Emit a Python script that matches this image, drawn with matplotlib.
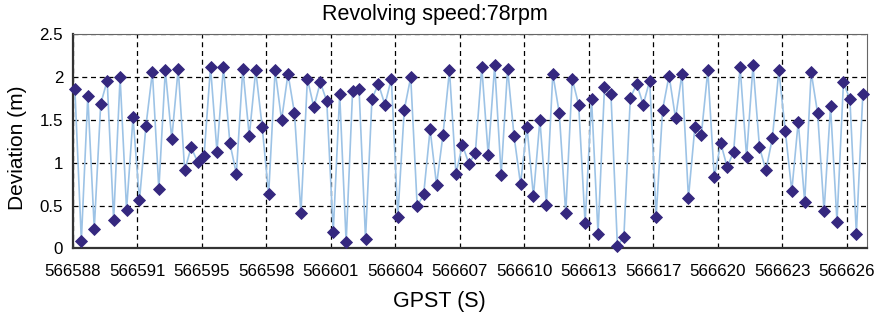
import numpy as np
import matplotlib
matplotlib.use("Agg")
import matplotlib.pyplot as plt

plt.rcParams['font.family'] = ['Liberation Sans', 'DejaVu Sans']

# deviation per sample (m)
deviation = [
    1.86, 0.09, 1.78, 0.23, 1.69, 1.96, 0.33, 2.00, 0.45, 1.53,
    0.56, 1.43, 2.06, 0.69, 2.08, 1.28, 2.10, 0.91, 1.18, 1.01,
    1.08, 2.12, 1.13, 2.12, 1.23, 0.87, 2.10, 1.31, 2.08, 1.42,
    0.63, 2.08, 1.50, 2.04, 1.58, 0.41, 1.98, 1.65, 1.94, 1.72,
    0.19, 1.80, 0.07, 1.84, 1.86, 0.11, 1.75, 1.92, 1.68, 1.98,
    0.37, 1.62, 2.00, 0.49, 0.63, 1.39, 0.74, 1.33, 2.08, 0.87,
    1.21, 0.99, 1.11, 2.12, 1.09, 2.14, 0.86, 2.10, 1.31, 0.75,
    1.42, 0.61, 1.50, 0.51, 2.04, 1.58, 0.41, 1.98, 1.68, 0.29,
    1.74, 0.17, 1.88, 1.80, 0.03, 0.13, 1.76, 1.92, 1.68, 1.96,
    0.37, 1.62, 2.02, 1.52, 2.04, 0.59, 1.42, 1.33, 2.08, 0.83,
    1.23, 0.95, 1.13, 2.12, 1.07, 2.14, 1.18, 0.91, 1.29, 2.08,
    1.37, 0.67, 1.48, 0.54, 2.06, 1.58, 0.43, 1.66, 0.31, 1.94,
    1.74, 0.17, 1.80,
]
sample = np.arange(len(deviation))

xtick_labels = ['566588', '566591', '566595', '566598', '566601', '566604',
                '566607', '566610', '566613', '566617', '566620', '566623',
                '566626']
ytick_values = [0, 0.5, 1, 1.5, 2, 2.5]
ytick_labels = ['0', '0.5', '1', '1.5', '2', '2.5']

fig = plt.figure(figsize=(8.79, 3.22), dpi=100)
ax = fig.add_axes([0.083, 0.229, 0.903, 0.664])

ax.plot(sample, deviation, color='#9DC3E6', lw=1.2, zorder=2)
ax.plot(sample, deviation, ls='none', marker='D', ms=5.8,
        mfc='#35287F', mec='#35287F', mew=0.6, zorder=3, clip_on=False)

ax.set_xlim(-0.3, 122.6)
ax.set_ylim(0, 2.5)
ax.set_xticks(np.linspace(-0.3, 119.5, len(xtick_labels)))
ax.set_xticklabels(xtick_labels)
ax.set_yticks(ytick_values)
ax.set_yticklabels(ytick_labels)
ax.tick_params(axis='x', length=0, pad=11, labelsize=12.2)
ax.tick_params(axis='y', length=0, pad=7, labelsize=12.2)

ax.grid(True, color='black', ls=(0, (4, 3)), lw=0.9)
ax.set_axisbelow(True)

for side in ['left', 'bottom']:
    ax.spines[side].set_color('#333333')
    ax.spines[side].set_linewidth(1.6)
for side in ['top', 'right']:
    ax.spines[side].set_color('#666666')
    ax.spines[side].set_linewidth(0.8)

# title and x label sit at the figure centre, not the axes centre
fig.text(0.495, 0.955, 'Revolving speed:78rpm', fontsize=15.5,
         ha='center', va='center')
fig.text(0.5, 0.065, 'GPST (S)', fontsize=15.5, ha='center', va='center')
fig.text(0.02, 0.54, 'Deviation (m)', fontsize=15, rotation=90,
         ha='center', va='center')

fig.savefig('out.png', dpi=100)
